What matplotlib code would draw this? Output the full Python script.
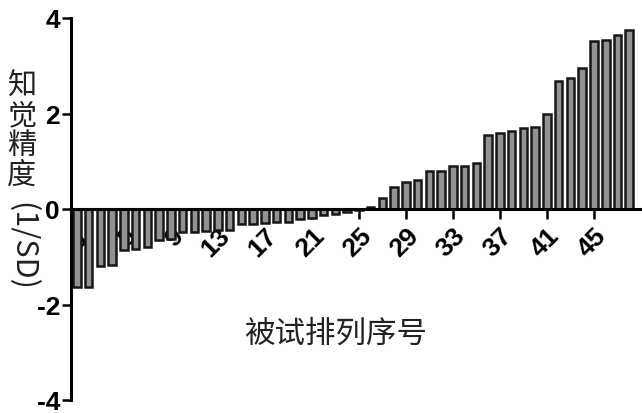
import matplotlib
matplotlib.use("Agg")
import matplotlib.pyplot as plt
import numpy as np

plt.rcParams["font.family"] = ["Liberation Sans", "DejaVu Sans"]

# sorted precision (1/SD) for each participant
subjects = np.arange(1, 49)
precision = [
    -1.63, -1.63, -1.19, -1.18, -0.86, -0.84, -0.80, -0.65, -0.62, -0.48,
    -0.48, -0.47, -0.44, -0.43, -0.32, -0.31, -0.30, -0.28, -0.27, -0.20,
    -0.19, -0.13, -0.10, -0.07, -0.02, 0.05, 0.22, 0.47, 0.56, 0.61,
    0.79, 0.79, 0.91, 0.91, 0.96, 1.54, 1.59, 1.63, 1.70, 1.72,
    1.99, 2.68, 2.74, 2.95, 3.52, 3.54, 3.64, 3.74,
]
xticks = list(range(1, 49, 4))
yticks = [-4, -2, 0, 2, 4]

W, H = 642, 414
fig = plt.figure(figsize=(W / 100, H / 100), dpi=100)
ax = fig.add_axes([71 / W, 1 - 401 / H, 570 / W, 382 / H])

ax.bar(subjects, precision, width=0.64, color="#929292",
       edgecolor="#161616", linewidth=1.8, zorder=2)

ax.set_xlim(0.5, 49)
ax.set_ylim(-4, 4)

for s in ("top", "right"):
    ax.spines[s].set_visible(False)
ax.spines["bottom"].set_position(("data", 0))
ax.spines["bottom"].set_linewidth(2.2)
ax.spines["left"].set_linewidth(2.2)
ax.spines["bottom"].set_zorder(3)

ax.set_yticks(yticks)
ax.set_yticklabels([str(v) for v in yticks], fontsize=19, fontweight="bold")
ax.set_xticks(xticks)
ax.set_xticklabels([str(v) for v in xticks], fontsize=19, fontweight="bold",
                   rotation=45, ha="right", va="top",
                   rotation_mode="anchor")
ax.tick_params(axis="y", direction="out", length=6.5, width=1.8, pad=1.5)
ax.tick_params(axis="x", direction="out", length=7, width=1.8, pad=3)

cjk = ["Noto Sans CJK SC", "DejaVu Sans"]
ax.text(23, -2.6, "被试排列序号", fontsize=22, family=cjk, color="#222222",
        ha="center", va="center")

# vertical y label: upright CJK characters, rotated Latin part
fig.text(22 / W, 1 - 131 / H, "知\n觉\n精\n度", fontsize=21, family=cjk,
         color="#222222", ha="center", va="center", linespacing=0.98)
fig.text(22 / W, 1 - 247 / H, "(1/SD)", fontsize=22, family=cjk,
         color="#222222", rotation=-90, ha="center", va="center")

fig.savefig("out.png", dpi=100)
